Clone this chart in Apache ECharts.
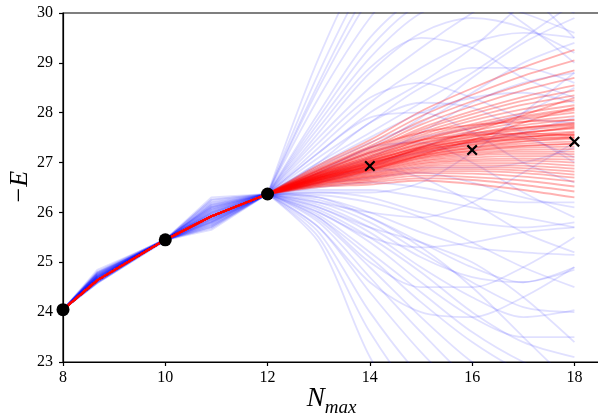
<!DOCTYPE html>
<html>
<head>
<meta charset="utf-8">
<script src="https://cdn.jsdelivr.net/npm/echarts@6/dist/echarts.min.js"></script>
<style>
html, body { margin: 0; padding: 0; background: #fff; }
#chart { width: 598px; height: 415px; }
</style>
</head>
<body>
<div id="chart"></div>
<script>
// x positions where every sampled curve is given
const xs = [8, 8.67, 10, 10.9, 12, 13, 14, 15, 16, 17, 18];

// fitted points (black dots) and predicted points (black crosses)
const fitX = [8, 10, 12];
const fitY = [24.05, 25.45, 26.37];
const predX = [14, 16, 18];
const predY = [26.93, 27.25, 27.42];

// blue samples, one row per curve, values at xs
const blueLines = [
  [24.05, 24.70, 25.45, 25.90, 26.37, 29.1, 31.2, 32.5, 33.0, 33.0, 33.0],
  [24.05, 24.62, 25.44, 26.05, 26.37, 28.8, 30.8, 32.0, 32.5, 32.3, 32.0],
  [24.05, 24.75, 25.46, 25.80, 26.37, 28.5, 30.3, 31.5, 32.0, 32.0, 31.5],
  [24.05, 24.66, 25.45, 26.15, 26.37, 28.3, 29.9, 31.0, 31.5, 31.0, 30.5],
  [24.05, 24.80, 25.47, 25.95, 26.37, 28.0, 29.5, 30.4, 30.8, 30.5, 30.0],
  [24.05, 24.58, 25.43, 25.70, 26.37, 27.8, 29.1, 30.0, 30.3, 30.0, 29.6],
  [24.05, 24.72, 25.45, 26.00, 26.37, 27.6, 28.8, 29.6, 29.9, 29.7, 29.2],
  [24.05, 24.68, 25.46, 26.25, 26.37, 27.5, 28.5, 29.3, 30.0, 30.6, 31.0],
  [24.05, 24.64, 25.44, 25.85, 26.37, 27.3, 28.2, 28.9, 29.4, 29.6, 29.5],
  [24.05, 24.85, 25.45, 26.10, 26.37, 27.2, 28.0, 28.6, 29.3, 30.2, 31.0],
  [24.05, 24.70, 25.45, 25.75, 26.37, 27.1, 27.8, 28.5, 28.9, 28.9, 28.6],
  [24.05, 24.60, 25.46, 25.98, 26.37, 27.0, 27.6, 28.2, 28.8, 29.5, 30.2],
  [24.05, 24.76, 25.44, 25.88, 26.37, 26.95, 27.5, 28.0, 28.3, 28.4, 28.2],
  [24.05, 24.66, 25.45, 26.20, 26.37, 26.9, 27.4, 27.8, 28.4, 29.0, 29.4],
  [24.05, 24.73, 25.47, 25.92, 26.37, 26.85, 27.3, 27.9, 28.7, 29.4, 29.9],
  [24.05, 24.62, 25.45, 25.65, 26.37, 26.8, 27.2, 27.5, 27.7, 28.0, 28.5],
  [24.05, 24.78, 25.43, 26.02, 26.37, 26.75, 27.1, 27.6, 28.2, 28.6, 28.8],
  [24.05, 24.69, 25.45, 25.84, 26.37, 26.7, 27.0, 27.2, 27.4, 27.6, 27.9],
  [24.05, 24.64, 25.46, 26.12, 26.37, 26.65, 26.9, 27.3, 27.6, 27.5, 27.1],
  [24.05, 24.72, 25.44, 25.78, 26.37, 26.6, 26.8, 26.9, 26.9, 27.0, 27.3],
  [24.05, 24.60, 25.45, 25.96, 26.37, 26.55, 26.7, 26.8, 26.6, 26.3, 26.1],
  [24.05, 24.82, 25.46, 26.30, 26.37, 26.5, 26.6, 26.5, 26.3, 26.2, 26.2],
  [24.05, 24.67, 25.45, 25.86, 26.37, 26.45, 26.45, 26.3, 26.1, 25.9, 25.7],
  [24.05, 24.71, 25.44, 26.06, 26.37, 26.4, 26.3, 26.0, 25.8, 25.7, 25.8],
  [24.05, 24.63, 25.45, 25.72, 26.37, 26.35, 26.2, 25.9, 25.4, 24.9, 24.5],
  [24.05, 24.75, 25.47, 25.94, 26.37, 26.3, 26.0, 25.6, 25.3, 25.2, 25.15],
  [24.05, 24.68, 25.45, 26.16, 26.37, 26.25, 25.9, 25.4, 24.9, 24.6, 24.85],
  [24.05, 24.59, 25.43, 25.82, 26.37, 26.2, 25.8, 25.2, 24.6, 24.1, 24.0],
  [24.05, 24.77, 25.45, 26.00, 26.37, 26.15, 25.7, 25.1, 24.7, 24.6, 24.9],
  [24.05, 24.65, 25.46, 25.68, 26.37, 26.1, 25.6, 24.9, 24.3, 23.9, 24.04],
  [24.05, 24.70, 25.45, 26.08, 26.37, 26.05, 25.5, 24.8, 24.0, 23.4, 23.1],
  [24.05, 24.61, 25.44, 25.90, 26.37, 26.0, 25.4, 24.6, 23.9, 23.5, 23.5],
  [24.05, 24.80, 25.45, 25.80, 26.37, 25.95, 25.2, 24.4, 23.6, 23.0, 22.6],
  [24.05, 24.66, 25.46, 26.22, 26.37, 25.9, 25.1, 24.2, 23.4, 22.8, 22.5],
  [24.05, 24.73, 25.45, 25.97, 26.37, 25.85, 24.9, 23.9, 23.0, 22.4, 22.0],
  [24.05, 24.62, 25.44, 25.76, 26.37, 25.8, 24.7, 23.6, 22.6, 22.0, 21.6],
  [24.05, 24.74, 25.45, 26.04, 26.37, 25.7, 24.4, 23.2, 22.2, 21.6, 21.3],
  [24.05, 24.67, 25.47, 25.87, 26.37, 25.6, 24.0, 22.7, 21.8, 21.3, 21.0],
  [24.05, 24.58, 25.45, 26.14, 26.37, 25.5, 23.6, 22.2, 21.3, 20.8, 20.5],
  [24.05, 24.79, 25.44, 25.92, 26.37, 25.4, 23.1, 21.6, 20.8, 20.3, 20.0],
  [24.05, 24.69, 25.45, 25.83, 26.37, 26.0, 25.5, 25.3, 25.4, 25.6, 25.7],
  [24.05, 24.64, 25.46, 26.10, 26.37, 26.6, 26.9, 26.7, 26.2, 25.6, 25.2],
  [24.05, 24.72, 25.45, 25.74, 26.37, 27.0, 27.8, 28.2, 28.1, 27.6, 27.0],
  [24.05, 24.60, 25.44, 25.99, 26.37, 27.4, 28.3, 28.6, 28.3, 27.9, 27.8],
  [24.05, 24.76, 25.45, 26.18, 26.37, 26.2, 26.0, 25.9, 26.2, 26.8, 27.4],
  [24.05, 24.66, 25.46, 25.89, 26.37, 25.9, 25.0, 24.5, 24.5, 24.9, 25.5],
  [24.05, 24.71, 25.45, 26.02, 26.37, 26.3, 25.9, 25.3, 24.5, 23.5, 22.5],
  [24.05, 24.63, 25.44, 25.79, 26.37, 27.9, 29.3, 30.2, 30.4, 29.8, 29.0],
  [24.05, 24.78, 25.45, 26.26, 26.37, 28.6, 30.5, 31.5, 31.5, 30.5, 29.5],
  [24.05, 24.68, 25.47, 25.93, 26.37, 26.8, 27.3, 27.4, 27.0, 26.4, 25.9],
  [24.05, 24.61, 25.45, 25.71, 26.37, 25.7, 24.6, 24.0, 23.9, 24.3, 24.9],
  [24.05, 24.74, 25.44, 26.07, 26.37, 26.1, 25.7, 25.4, 25.0, 24.3, 23.4],
  [24.05, 24.67, 25.45, 25.86, 26.37, 27.2, 27.9, 28.0, 27.6, 27.0, 26.6],
  [24.05, 24.70, 25.46, 26.11, 26.37, 26.4, 26.4, 26.6, 27.2, 28.0, 28.8],
  [24.05, 24.65, 25.45, 25.81, 26.37, 27.7, 28.9, 29.5, 29.3, 28.7, 28.3]
];

// red samples share the fitted part up to 12, then fan out (values at 13..18)
const redLeft = [24.05, 24.64, 25.45, 25.92, 26.37];
const redRight = [
  [26.95, 27.45, 28.03, 28.49, 28.91, 29.26],
  [26.92, 27.39, 27.93, 28.36, 28.74, 29.05],
  [26.89, 27.33, 27.83, 28.23, 28.57, 28.85],
  [26.87, 27.28, 27.76, 28.13, 28.45, 28.70],
  [26.85, 27.24, 27.69, 28.03, 28.32, 28.55],
  [26.83, 27.21, 27.65, 27.97, 28.24, 28.45],
  [26.82, 27.18, 27.60, 27.90, 28.16, 28.35],
  [26.80, 27.15, 27.55, 27.84, 28.07, 28.25],
  [26.79, 27.12, 27.51, 27.77, 27.99, 28.15],
  [26.78, 27.09, 27.47, 27.73, 27.93, 28.08],
  [26.77, 27.07, 27.44, 27.68, 27.87, 28.00],
  [26.75, 27.05, 27.40, 27.63, 27.81, 27.93],
  [26.74, 27.03, 27.37, 27.58, 27.75, 27.86],
  [26.74, 27.01, 27.34, 27.55, 27.70, 27.80],
  [26.73, 26.99, 27.31, 27.51, 27.65, 27.74],
  [26.72, 26.97, 27.28, 27.47, 27.60, 27.68],
  [26.71, 26.96, 27.26, 27.43, 27.55, 27.62],
  [26.70, 26.94, 27.23, 27.40, 27.51, 27.57],
  [26.69, 26.93, 27.21, 27.36, 27.47, 27.52],
  [26.69, 26.91, 27.19, 27.33, 27.43, 27.47],
  [26.68, 26.90, 27.16, 27.30, 27.38, 27.42],
  [26.67, 26.88, 27.14, 27.27, 27.34, 27.37],
  [26.66, 26.87, 27.12, 27.23, 27.30, 27.32],
  [26.66, 26.85, 27.09, 27.20, 27.26, 27.27],
  [26.65, 26.84, 27.07, 27.17, 27.22, 27.22],
  [26.64, 26.82, 27.04, 27.14, 27.18, 27.17],
  [26.63, 26.81, 27.02, 27.10, 27.13, 27.12],
  [26.62, 26.79, 26.99, 27.06, 27.08, 27.06],
  [26.62, 26.77, 26.97, 27.03, 27.04, 27.00],
  [26.61, 26.75, 26.94, 26.99, 26.99, 26.94],
  [26.60, 26.73, 26.91, 26.95, 26.94, 26.88],
  [26.59, 26.72, 26.88, 26.91, 26.89, 26.82],
  [26.58, 26.70, 26.85, 26.87, 26.84, 26.76],
  [26.57, 26.68, 26.82, 26.83, 26.79, 26.70],
  [26.56, 26.66, 26.79, 26.78, 26.72, 26.62],
  [26.54, 26.63, 26.74, 26.71, 26.64, 26.52],
  [26.53, 26.60, 26.69, 26.65, 26.55, 26.42],
  [26.51, 26.56, 26.64, 26.57, 26.45, 26.30],
  [26.85, 27.30, 27.60, 27.75, 27.82, 27.85],
  [26.60, 26.85, 27.15, 27.45, 27.80, 28.10],
  [26.80, 27.20, 27.45, 27.55, 27.58, 27.55],
  [26.65, 26.95, 27.30, 27.62, 27.95, 28.30],
  [26.72, 27.02, 27.32, 27.52, 27.68, 27.78],
  [26.70, 26.98, 27.27, 27.46, 27.60, 27.70],
  [26.76, 27.08, 27.38, 27.58, 27.70, 27.76],
  [26.68, 26.92, 27.18, 27.36, 27.50, 27.60],
  [26.66, 26.89, 27.14, 27.30, 27.42, 27.50],
  [26.74, 27.04, 27.30, 27.45, 27.52, 27.55],
  [26.69, 26.95, 27.22, 27.42, 27.58, 27.72],
  [26.71, 26.99, 27.25, 27.40, 27.47, 27.50],
  [26.78, 27.12, 27.45, 27.70, 27.90, 28.05],
  [26.64, 26.86, 27.10, 27.24, 27.33, 27.38]
];

const split = 4; // index of x = 12 in xs: straight segments before, smooth after

function pairs(ys, from, to) {
  const out = [];
  for (let i = from; i <= to; i++) out.push([xs[i], ys[i]]);
  return out;
}

const series = [];
function addCurve(ys, color, z) {
  const style = { color: color, width: 1.8 };
  series.push({ type: 'line', data: pairs(ys, 0, split), symbol: 'none', silent: true, lineStyle: style, z: z });
  series.push({ type: 'line', data: pairs(ys, split, xs.length - 1), symbol: 'none', smooth: 0.3, silent: true, lineStyle: style, z: z });
}
blueLines.forEach(ys => addCurve(ys, 'rgba(0,0,255,0.12)', 1));
redRight.forEach(r => addCurve(redLeft.concat(r), 'rgba(255,0,0,0.3)', 2));

series.push({
  type: 'scatter', data: fitX.map((x, i) => [x, fitY[i]]), symbol: 'circle', symbolSize: 13,
  itemStyle: { color: '#000', opacity: 1 }, z: 5
});
series.push({
  type: 'scatter', data: predX.map((x, i) => [x, predY[i]]),
  symbol: 'path://M0,1.4L1.4,0L10,8.6L8.6,10Z M8.6,0L10,1.4L1.4,10L0,8.6Z', symbolSize: 11,
  itemStyle: { color: '#000', opacity: 1 }, z: 5
});

const font = 'Liberation Serif';
const chart = echarts.init(document.getElementById('chart'));
chart.setOption({
  animation: false,
  grid: {
    left: 63, top: 13, width: 537, height: 349, outerBoundsMode: 'none', containLabel: false,
    show: true, borderColor: '#000', borderWidth: 1.2
  },
  xAxis: {
    type: 'value', min: 8, max: 18.5, interval: 2,
    name: '{n|N}{s|max}', nameLocation: 'middle', nameGap: 23, nameMoveOverlap: false,
    nameTextStyle: {
      rich: {
        n: { fontFamily: font, fontStyle: 'italic', fontSize: 27, color: '#000', verticalAlign: 'bottom', padding: [0, 0, 5, 0] },
        s: { fontFamily: font, fontStyle: 'italic', fontSize: 19, color: '#000', verticalAlign: 'bottom' }
      }
    },
    axisLine: { lineStyle: { color: '#000', width: 1.2 } },
    axisTick: { length: 4, lineStyle: { color: '#000', width: 1.2 } },
    axisLabel: { fontFamily: font, fontSize: 16, color: '#000', margin: 8, showMaxLabel: false },
    splitLine: { show: false }
  },
  yAxis: {
    type: 'value', min: 23, max: 30, interval: 1,
    name: '\u2212E', nameLocation: 'middle', nameGap: 30, nameRotate: 90, nameMoveOverlap: false,
    nameTextStyle: { fontFamily: font, fontStyle: 'italic', fontSize: 26, color: '#000' },
    axisLine: { lineStyle: { color: '#000', width: 1.2 } },
    axisTick: { length: 4, lineStyle: { color: '#000', width: 1.2 } },
    axisLabel: { fontFamily: font, fontSize: 16, color: '#000', margin: 10 },
    splitLine: { show: false }
  },
  series: series
});
</script>
</body>
</html>
